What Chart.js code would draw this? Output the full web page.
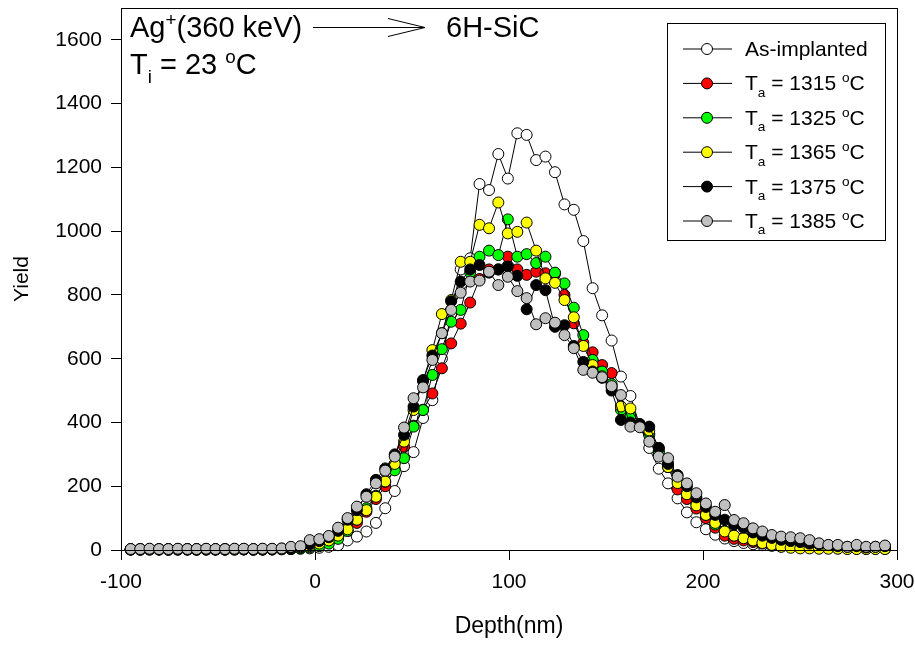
<!DOCTYPE html>
<html>
<head>
<meta charset="utf-8">
<script src="https://cdn.jsdelivr.net/npm/chart.js@4"></script>
<style>
  html, body { margin: 0; padding: 0; background: #fff; }
  #wrap { width: 915px; height: 646px; }
</style>
</head>
<body>
<div id="wrap"><canvas id="chart" width="915" height="646"></canvas></div>
<script>
// depth grid (nm)
const depth = [-95, -90.1, -85.3, -80.4, -75.6, -70.7, -65.8, -61.0, -56.1, -51.3,
  -46.4, -41.5, -36.7, -31.8, -27.0, -22.1, -17.2, -12.4, -7.5, -2.7,
  2.2, 7.1, 11.9, 16.8, 21.6, 26.5, 31.4, 36.2, 41.1, 45.9,
  50.8, 55.7, 60.5, 65.4, 70.2, 75.1, 80.0, 84.8, 89.7, 94.5,
  99.4, 104.3, 109.1, 114.0, 118.8, 123.7, 128.6, 133.4, 138.3, 143.1,
  148.0, 152.9, 157.7, 162.6, 167.4, 172.3, 177.2, 182.0, 186.9, 191.7,
  196.6, 201.5, 206.3, 211.2, 216.0, 220.9, 225.8, 230.6, 235.5, 240.3,
  245.2, 250.1, 254.9, 259.8, 264.6, 269.5, 274.4, 279.2, 284.1, 288.9, 293.8];

const asImplanted = [2, 1, 3, 2, 1, 2, 3, 1, 2, 2, 1, 3, 2, 2, 1, 2, 3,
  3, 4, 5, 7, 10, 15, 30, 42, 58, 85, 131, 185, 263,
  307, 414, 470, 600, 740, 880, 915, 1148, 1129, 1242,
  1165, 1307, 1302, 1223, 1234, 1185, 1084, 1067, 969, 821,
  736, 657, 544, 483, 390, 320, 255, 209, 162, 118,
  87, 65, 48, 36, 28, 22, 18, 15, 13, 11,
  10, 9, 8, 8, 7, 7, 6, 6, 6, 5, 5];

const ta1315 = [1, 2, 2, 1, 2, 2, 1, 2, 2, 1, 2, 2, 2, 1, 2, 2, 3,
  4, 6, 10, 15, 25, 40, 60, 85, 120, 160, 200, 256, 324,
  390, 440, 491, 570, 648, 710, 776, 850, 880, 880,
  920, 880, 863, 873, 868, 866, 800, 711, 650, 620,
  580, 555, 450, 420, 390, 365, 310, 260, 190, 160,
  130, 100, 70, 45, 35, 30, 25, 20, 16, 13,
  11, 10, 8, 7, 6, 6, 5, 5, 4, 4, 4];

const ta1325 = [2, 1, 2, 2, 1, 2, 2, 1, 2, 2, 1, 2, 2, 1, 2, 2, 2,
  3, 5, 8, 12, 20, 35, 60, 95, 131, 170, 214, 250, 288,
  387, 439, 549, 630, 716, 753, 870, 920, 939, 925,
  1037, 920, 928, 900, 920, 870, 836, 760, 674, 596,
  560, 520, 440, 420, 390, 360, 305, 270, 220, 180,
  145, 110, 80, 60, 45, 38, 30, 25, 20, 16,
  12, 10, 8, 7, 6, 5, 5, 4, 4, 4, 4];

const ta1365 = [2, 2, 1, 2, 2, 1, 2, 2, 1, 2, 2, 1, 2, 2, 2, 2, 3,
  5, 8, 12, 20, 30, 45, 65, 95, 125, 167, 215, 270, 340,
  439, 530, 627, 740, 784, 904, 904, 1020, 1009, 1090,
  993, 998, 1027, 939, 852, 838, 784, 730, 640, 580,
  545, 510, 450, 444, 395, 375, 320, 260, 210, 175,
  140, 110, 85, 58, 45, 37, 30, 22, 16, 10,
  7, 5, 5, 4, 4, 4, 3, 3, 3, 3, 3];

const ta1375 = [2, 3, 3, 2, 3, 3, 2, 3, 3, 2, 3, 3, 3, 2, 3, 3, 4,
  6, 10, 18, 28, 40, 60, 95, 125, 175, 220, 256, 300, 361,
  450, 533, 610, 680, 780, 842, 880, 894, 870, 880,
  889, 860, 755, 831, 815, 700, 705, 640, 590, 560,
  540, 500, 408, 400, 395, 387, 320, 270, 235, 200,
  165, 135, 110, 95, 80, 70, 55, 45, 38, 32,
  28, 25, 20, 18, 15, 12, 10, 12, 8, 10, 12];

const ta1385 = [3, 3, 4, 3, 3, 4, 3, 3, 4, 3, 3, 4, 4, 3, 4, 4, 5,
  10, 12, 31, 34, 44, 70, 100, 136, 167, 209, 249, 293, 384,
  476, 510, 596, 680, 753, 807, 842, 845, 873, 831,
  857, 812, 790, 708, 727, 713, 674, 633, 565, 556,
  542, 514, 486, 387, 385, 340, 293, 288, 230, 209,
  178, 146, 120, 141, 94, 84, 68, 58, 47, 42,
  40, 37, 31, 21, 16, 16, 10, 16, 10, 10, 14];

const annealTemps = ['1315', '1325', '1365', '1375', '1385'];
const seriesFill = ['#ffffff', '#ff0000', '#00ff00', '#ffff00', '#000000', '#c0c0c0'];
const seriesValues = [asImplanted, ta1315, ta1325, ta1365, ta1375, ta1385];
const xTicks = [-100, 0, 100, 200, 300];
const yTicks = [0, 200, 400, 600, 800, 1000, 1200, 1400, 1600];

const FONT = "'Liberation Sans', Arial, sans-serif";

const datasets = seriesValues.map(function (vals, i) {
    return {
        label: i === 0 ? 'As-implanted' : 'Ta = ' + annealTemps[i - 1] + ' °C',
        data: vals.map(function (v, k) { return { x: depth[k], y: v }; }),
        order: seriesValues.length - i, // last series drawn on top
        showLine: true,
        borderColor: '#000',
        borderWidth: 1,
        backgroundColor: seriesFill[i],
        pointBackgroundColor: seriesFill[i],
        pointBorderColor: '#000',
        pointBorderWidth: 1,
        pointRadius: 5.5,
        pointHoverRadius: 5.5,
        clip: false
    };
});

// text with sub/superscripts, parts: [text, 'n'|'sub'|'sup']
function richText(ctx, x, y, parts, size) {
    parts.forEach(function (p) {
        let s = size, dy = 0;
        if (p[1] === 'sub') { s = size * 0.65; dy = size * 0.3; }
        if (p[1] === 'sup') { s = size * 0.65; dy = -size * 0.38; }
        ctx.font = s + 'px ' + FONT;
        ctx.fillText(p[0], x, y + dy);
        x += ctx.measureText(p[0]).width;
    });
    return x;
}

const decor = {
    id: 'decor',
    afterDraw(chart) {
        const ctx = chart.ctx;
        const a = chart.chartArea;
        ctx.save();
        ctx.strokeStyle = '#000';
        ctx.lineWidth = 1;
        ctx.strokeRect(a.left + 0.5, a.top + 0.5, a.right - a.left, a.bottom - a.top);

        // header text
        ctx.fillStyle = '#000';
        ctx.textBaseline = 'alphabetic';
        ctx.textAlign = 'left';
        richText(ctx, 130, 37, [['Ag', 'n'], ['+', 'sup'], ['(360 keV)', 'n']], 29);
        ctx.beginPath();
        ctx.moveTo(313, 27.5); ctx.lineTo(425, 27.5);
        ctx.moveTo(388, 18.5); ctx.lineTo(425, 27.5); ctx.lineTo(388, 36.5);
        ctx.stroke();
        richText(ctx, 446, 37, [['6H-SiC', 'n']], 29);
        richText(ctx, 130, 74, [['T', 'n'], ['i', 'sub'], [' = 23 ', 'n'], ['o', 'sup'], ['C', 'n']], 29);

        // legend box
        ctx.strokeRect(667.5, 23.5, 218, 217);
        chart.data.datasets.forEach(function (ds, i) {
            const y = 49 + i * 34.4;
            ctx.beginPath();
            ctx.moveTo(683, y); ctx.lineTo(732, y);
            ctx.stroke();
            ctx.beginPath();
            ctx.arc(707, y, 5.5, 0, Math.PI * 2);
            ctx.fillStyle = seriesFill[i];
            ctx.fill();
            ctx.stroke();
            ctx.fillStyle = '#000';
            if (i === 0) {
                richText(ctx, 745, y + 7, [['As-implanted', 'n']], 21);
            } else {
                richText(ctx, 745, y + 7, [['T', 'n'], ['a', 'sub'], [' = ' + annealTemps[i - 1] + ' ', 'n'], ['o', 'sup'], ['C', 'n']], 21);
            }
        });
        ctx.restore();
    }
};

new Chart(document.getElementById('chart').getContext('2d'), {
    type: 'scatter',
    data: { datasets: datasets },
    options: {
        responsive: false,
        animation: false,
        events: [],
        layout: { padding: { top: 8, right: 18, left: 0, bottom: 0 } },
        plugins: { legend: { display: false }, tooltip: { enabled: false } },
        scales: {
            x: {
                type: 'linear',
                min: -100, max: 300,
                afterFit: function (s) { s.height = 96; s.paddingLeft = 0; s.paddingRight = 0; },
                afterBuildTicks: function (s) { s.ticks = xTicks.map(function (v) { return { value: v }; }); },
                grid: { drawOnChartArea: false, drawTicks: true, tickLength: 10, color: '#000' },
                border: { color: '#000', width: 1 },
                ticks: { color: '#000', padding: 10, maxRotation: 0, font: { family: FONT, size: 21 },
                    callback: function (v) { return String(v); } },
                title: { display: true, text: 'Depth(nm)', color: '#000', padding: { top: 0, bottom: 6 }, font: { family: FONT, size: 23 } }
            },
            y: {
                type: 'linear',
                min: 0, max: 1700,
                afterFit: function (s) { s.width = 121; s.paddingTop = 0; s.paddingBottom = 0; },
                afterBuildTicks: function (s) { s.ticks = yTicks.map(function (v) { return { value: v }; }); },
                grid: { drawOnChartArea: false, drawTicks: true, tickLength: 10, color: '#000' },
                border: { color: '#000', width: 1 },
                ticks: { color: '#000', padding: 9, font: { family: FONT, size: 21 },
                    callback: function (v) { return String(v); } },
                title: { display: true, text: 'Yield', color: '#000', padding: { top: 10, bottom: 0 }, font: { family: FONT, size: 21 } }
            }
        }
    },
    plugins: [decor]
});
</script>
</body>
</html>
